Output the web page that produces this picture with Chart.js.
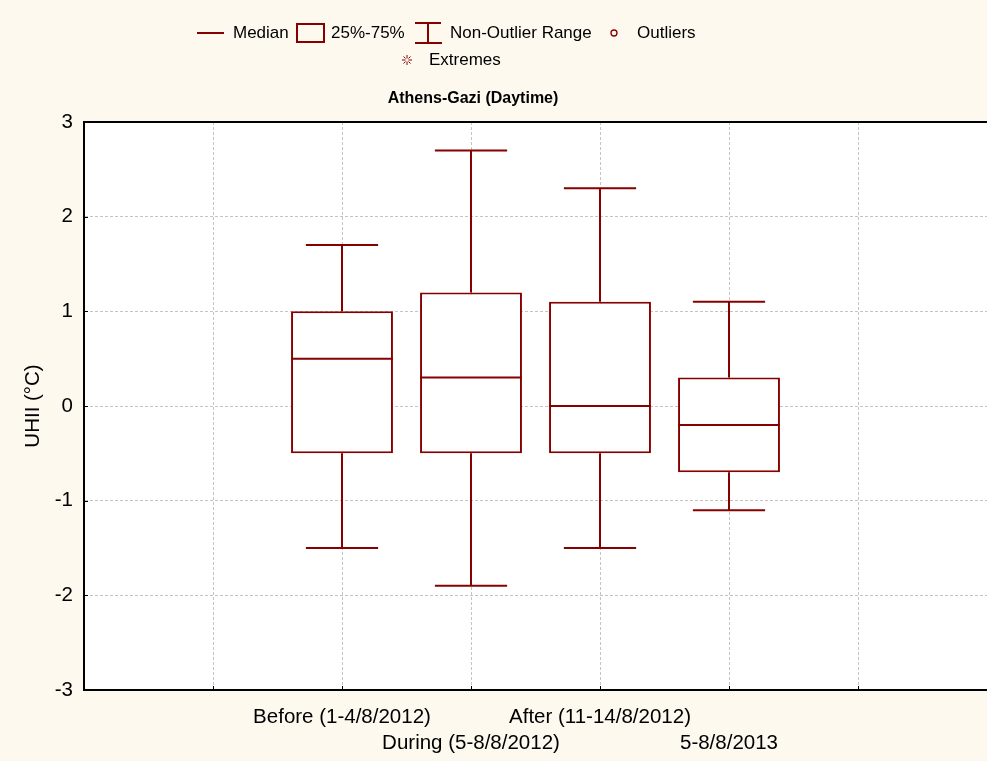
<!DOCTYPE html>
<html>
<head>
<meta charset="utf-8">
<script src="https://cdn.jsdelivr.net/npm/chart.js@4.4.1/dist/chart.umd.min.js"></script>
<style>
  html, body { margin: 0; padding: 0; background: #fdf9ef; }
  #wrap { position: relative; width: 987px; height: 761px; overflow: hidden; }
  #chart { position: absolute; left: 0; top: 0; }
  .txt { position: absolute; font: 17px "Liberation Sans", Arial, sans-serif; color: #000; line-height: 20px; white-space: nowrap; }
  .ttl { position: absolute; font: bold 16px "Liberation Sans", Arial, sans-serif; color: #000; line-height: 20px; white-space: nowrap; transform: translateX(-50%); }
  #icons { position: absolute; left: 0; top: 0; pointer-events: none; }
</style>
</head>
<body>
<div id="wrap">
  <canvas id="chart" width="987" height="761"></canvas>
  <svg id="icons" width="987" height="80" xmlns="http://www.w3.org/2000/svg">
    <g stroke="#870000" fill="none">
      <line x1="197" y1="33" x2="224" y2="33" stroke-width="2"/>
      <rect x="297" y="24" width="27" height="18" stroke-width="2"/>
      <path d="M415 23H441M428 23V43M415 43H442" stroke-width="2"/>
      <circle cx="614" cy="33" r="3" stroke-width="1.3"/>
      <path d="M407 55V58.5M407 61.5V65M402 60H405.5M408.5 60H412M403.5 56.5L405.5 58.5M408.5 61.5L410.5 63.5M410.5 56.5L408.5 58.5M405.5 61.5L403.5 63.5" stroke-width="1"/>
    </g>
  </svg>
  <div class="txt" style="left:233px;top:23px">Median</div>
  <div class="txt" style="left:331px;top:23px">25%-75%</div>
  <div class="txt" style="left:450px;top:23px">Non-Outlier Range</div>
  <div class="txt" style="left:637px;top:23px">Outliers</div>
  <div class="txt" style="left:429px;top:50px">Extremes</div>
  <div class="ttl" style="left:473px;top:88px">Athens-Gazi (Daytime)</div>
</div>
<script>
// Box-plot summary per period (UHII, °C)
const categories = ['Before (1-4/8/2012)', 'During (5-8/8/2012)', 'After (11-14/8/2012)', '5-8/8/2013'];
const whiskerLow  = [-1.5, -1.9, -1.5, -1.1];
const quartile1   = [-0.5, -0.5, -0.5, -0.7];
const medians     = [ 0.5,  0.3,  0.0, -0.2];
const quartile3   = [ 1.0,  1.2,  1.1,  0.3];
const whiskerHigh = [ 1.7,  2.7,  2.3,  1.1];
const yTickValues = [-3, -2, -1, 0, 1, 2, 3];

const FONT = '"Liberation Sans", Arial, sans-serif';
const AXIS_FONT_SIZE = 20.5;
const RED = '#870000';
const FIRST_SLOT = 2;      // first box sits on the third grid slot
const SLOT_MAX = 7;        // x axis runs over 7 slots
const BOX_HALF = 0.395;    // half box width in slot units
const CAP_HALF = 0.28;     // half whisker-cap width in slot units

const slotOf = i => i + FIRST_SLOT;

const boxData = categories.map((c, i) => ({ x: slotOf(i), y: [quartile1[i], quartile3[i]] }));

const whiskerData = [];
categories.forEach((c, i) => {
  const x = slotOf(i);
  whiskerData.push({ x, y: quartile3[i] }, { x, y: whiskerHigh[i] }, { x, y: null });
  whiskerData.push({ x: x - CAP_HALF, y: whiskerHigh[i] }, { x: x + CAP_HALF, y: whiskerHigh[i] }, { x, y: null });
  whiskerData.push({ x, y: quartile1[i] }, { x, y: whiskerLow[i] }, { x, y: null });
  whiskerData.push({ x: x - CAP_HALF, y: whiskerLow[i] }, { x: x + CAP_HALF, y: whiskerLow[i] }, { x, y: null });
});

const medianData = [];
categories.forEach((c, i) => {
  const x = slotOf(i);
  medianData.push({ x: x - BOX_HALF, y: medians[i] }, { x: x + BOX_HALF, y: medians[i] }, { x, y: null });
});

// white plot area, solid top frame and short inward tick marks
const frame = {
  id: 'frame',
  beforeDraw(chart) {
    const { ctx, chartArea: a } = chart;
    ctx.save();
    ctx.fillStyle = '#ffffff';
    ctx.fillRect(a.left, a.top, a.right - a.left, a.bottom - a.top);
    ctx.restore();
  },
  afterDraw(chart) {
    const { ctx, chartArea: a, scales } = chart;
    ctx.save();
    ctx.strokeStyle = '#000';
    ctx.lineWidth = 2;
    ctx.beginPath();
    ctx.moveTo(a.left - 1, a.top);
    ctx.lineTo(a.right, a.top);
    ctx.stroke();
    ctx.lineWidth = 1;
    ctx.beginPath();
    yTickValues.forEach(v => {
      const y = Math.round(scales.y.getPixelForValue(v)) + 0.5;
      ctx.moveTo(a.left, y);
      ctx.lineTo(a.left + 4, y);
    });
    for (let s = 1; s < SLOT_MAX; s++) {
      const x = Math.round(scales.x.getPixelForValue(s)) + 0.5;
      ctx.moveTo(x, a.bottom);
      ctx.lineTo(x, a.bottom - 4);
    }
    ctx.stroke();
    ctx.restore();
  }
};

new Chart(document.getElementById('chart'), {
  data: {
    datasets: [
      {
        type: 'line', order: 0, data: medianData,
        borderColor: RED, borderWidth: 2, borderCapStyle: 'butt',
        pointRadius: 0, spanGaps: false, tension: 0
      },
      {
        type: 'line', order: 0, data: whiskerData,
        borderColor: RED, borderWidth: 2, borderCapStyle: 'butt',
        pointRadius: 0, spanGaps: false, tension: 0
      },
      {
        type: 'bar', order: 1, data: boxData,
        backgroundColor: '#ffffff', borderColor: RED, borderWidth: 2,
        borderSkipped: false, barPercentage: BOX_HALF * 2, categoryPercentage: 1
      }
    ]
  },
  options: {
    responsive: false,
    animation: false,
    devicePixelRatio: 1,
    layout: { padding: { top: 122, left: 0, right: 0, bottom: 0 } },
    plugins: { legend: { display: false }, tooltip: { enabled: false }, title: { display: false } },
    scales: {
      x: {
        type: 'linear', min: 0, max: SLOT_MAX, offset: false,
        afterFit(s) { s.height = 71; s.paddingLeft = 0; s.paddingRight = 0; },
        afterBuildTicks(s) { s.ticks = Array.from({ length: SLOT_MAX + 1 }, (_, k) => ({ value: k })); },
        ticks: {
          autoSkip: false, maxRotation: 0, minRotation: 0, padding: 14, color: '#000',
          font: { family: FONT, size: AXIS_FONT_SIZE, lineHeight: 26 / AXIS_FONT_SIZE },
          callback(v) {
            const i = v - FIRST_SLOT;
            if (i < 0 || i >= categories.length) return '';
            return i % 2 === 0 ? [categories[i]] : ['', categories[i]];
          }
        },
        grid: {
          offset: false, drawTicks: false, lineWidth: 1,
          color: ctx => (ctx.tick && ctx.tick.value === 0) ? 'rgba(0,0,0,0)' : '#c4c4c4'
        },
        border: { display: true, color: '#000', width: 2, dash: [3, 2] }
      },
      y: {
        min: -3, max: 3,
        afterFit(s) { s.width = 84; },
        afterBuildTicks(s) { s.ticks = yTickValues.map(v => ({ value: v })); },
        ticks: { padding: 11, color: '#000', font: { family: FONT, size: AXIS_FONT_SIZE } },
        title: {
          display: true, text: 'UHII (°C)', color: '#000',
          font: { family: FONT, size: AXIS_FONT_SIZE, lineHeight: 1.2 }, padding: { top: 21, bottom: 0 }
        },
        grid: {
          drawTicks: false, lineWidth: 1,
          color: ctx => (ctx.tick && (ctx.tick.value === 3 || ctx.tick.value === -3)) ? 'rgba(0,0,0,0)' : '#c4c4c4'
        },
        border: { display: true, color: '#000', width: 2, dash: [3, 2] }
      }
    }
  },
  plugins: [frame]
});
</script>
</body>
</html>
